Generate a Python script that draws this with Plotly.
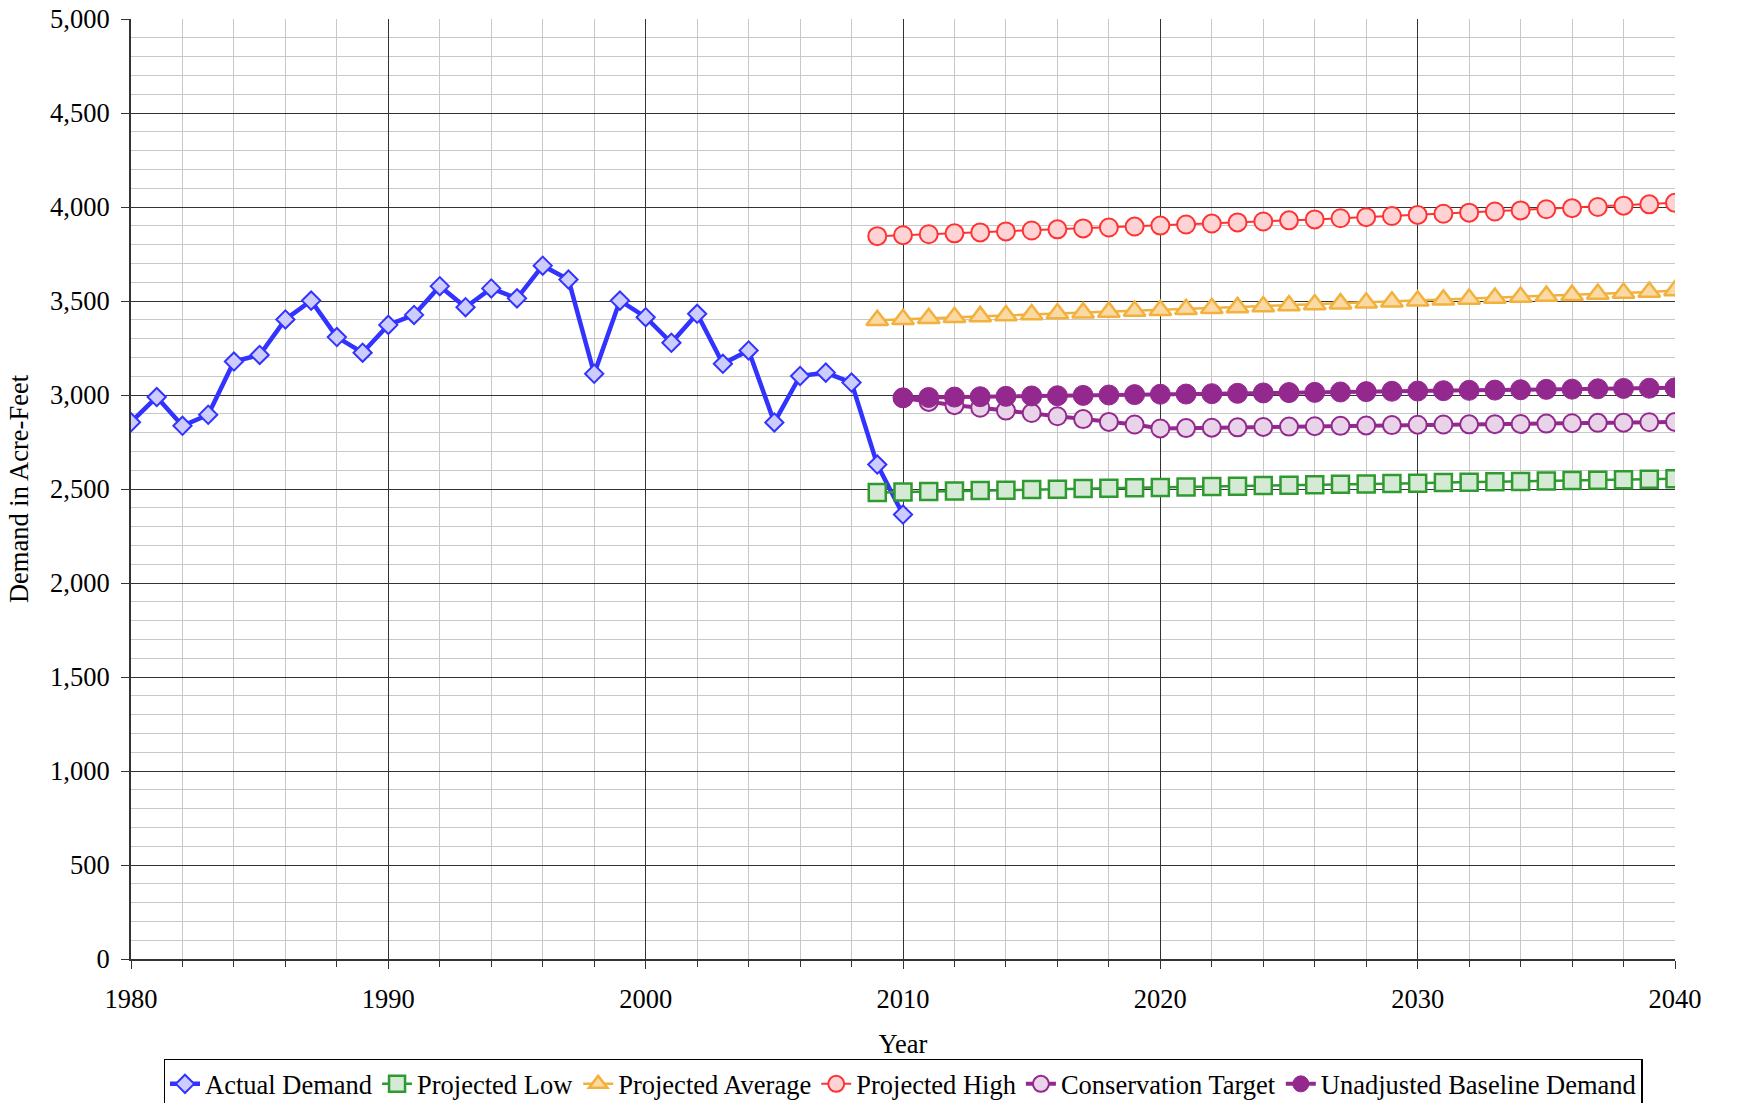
import plotly.graph_objects as go

# Actual demand 1980-2010
actual_years = list(range(1980, 2011))
actual_demand = [2855, 2989, 2836, 2895, 3178, 3213, 3402, 3502, 3308, 3225,
                 3373, 3426, 3579, 3467, 3567, 3514, 3688, 3614, 3113, 3502,
                 3414, 3278, 3432, 3166, 3237, 2854, 3101, 3119, 3066, 2630,
                 2364]

# Projections 2009-2040
proj_years = list(range(2009, 2041))
proj_low = [2481, 2484, 2487, 2489, 2492, 2494, 2497, 2499, 2502, 2504,
            2506, 2508, 2511, 2513, 2515, 2518, 2520, 2522, 2525, 2527,
            2529, 2531, 2534, 2536, 2538, 2540, 2543, 2545, 2547, 2549,
            2552, 2555]
proj_avg = [3398, 3403, 3408, 3413, 3418, 3423, 3428, 3433, 3438, 3442,
            3447, 3451, 3456, 3461, 3466, 3471, 3476, 3481, 3486, 3491,
            3496, 3501, 3506, 3511, 3516, 3521, 3526, 3531, 3537, 3542,
            3548, 3556]
proj_high = [3845, 3850, 3855, 3860, 3865, 3870, 3875, 3881, 3886, 3891,
             3896, 3901, 3907, 3912, 3918, 3923, 3929, 3934, 3940, 3946,
             3952, 3958, 3964, 3970, 3976, 3982, 3988, 3994, 4000, 4007,
             4014, 4022]

# Conservation / baseline 2010-2040
cons_years = list(range(2010, 2041))
conservation = [2984, 2963, 2946, 2932, 2917, 2904, 2887, 2872, 2857, 2843,
                2822, 2824, 2826, 2828, 2830, 2832, 2834, 2836, 2838, 2840,
                2842, 2843, 2844, 2845, 2846, 2848, 2850, 2852, 2853, 2855,
                2857]
baseline = [2985, 2987, 2989, 2991, 2993, 2995, 2996, 2998, 3000, 3002,
            3004, 3005, 3007, 3009, 3011, 3013, 3014, 3016, 3018, 3020,
            3021, 3023, 3025, 3026, 3028, 3030, 3031, 3033, 3035, 3036,
            3038]

FONT = "Liberation Serif, Times New Roman, serif"
FS = 26.5

fig = go.Figure()
fig.add_trace(go.Scatter(
    x=actual_years, y=actual_demand, name="Actual Demand",
    mode="lines+markers",
    line=dict(color="#3333ff", width=4.5),
    marker=dict(symbol="diamond", size=14, color="#ccccff",
                line=dict(color="#3333ff", width=2)),
))
fig.add_trace(go.Scatter(
    x=proj_years, y=proj_low, name="Projected Low",
    mode="lines+markers",
    line=dict(color="#2f9a2f", width=2.5),
    marker=dict(symbol="square", size=17, color="#d4ead4",
                line=dict(color="#2f9a2f", width=2.5)),
))
fig.add_trace(go.Scatter(
    x=proj_years, y=proj_avg, name="Projected Average",
    mode="lines+markers",
    line=dict(color="#f2b13d", width=2.5),
    marker=dict(symbol="triangle-up", size=19, color="#fad9a3",
                line=dict(color="#f2b13d", width=2.5)),
))
fig.add_trace(go.Scatter(
    x=proj_years, y=proj_high, name="Projected High",
    mode="lines+markers",
    line=dict(color="#ff3333", width=2),
    marker=dict(symbol="circle", size=18, color="#ffd3d3",
                line=dict(color="#ff3333", width=2)),
))
fig.add_trace(go.Scatter(
    x=cons_years, y=conservation, name="Conservation Target",
    mode="lines+markers",
    line=dict(color="#93298f", width=4),
    marker=dict(symbol="circle", size=18, color="#e8d3e8",
                line=dict(color="#93298f", width=2)),
))
fig.add_trace(go.Scatter(
    x=cons_years, y=baseline, name="Unadjusted Baseline Demand",
    mode="lines+markers",
    line=dict(color="#93298f", width=4),
    marker=dict(symbol="circle", size=20, color="#93298f",
                line=dict(color="#93298f", width=1)),
))

fig.update_layout(
    width=1738, height=1103,
    paper_bgcolor="white", plot_bgcolor="white",
    font=dict(family=FONT, size=FS, color="black"),
    margin=dict(l=131, r=63, t=19, b=144, autoexpand=False),
    showlegend=True,
    legend=dict(
        orientation="h", x=0.5, xanchor="center", y=-0.106, yanchor="top",
        bgcolor="white", bordercolor="black", borderwidth=1.5,
        font=dict(family=FONT, size=FS),
        tracegroupgap=0,
    ),
    xaxis=dict(
        range=[1980, 2040], dtick=10, tick0=1980,
        showline=True, linecolor="#333", linewidth=2,
        gridcolor="#333", gridwidth=1,
        ticks="outside", ticklen=8, tickcolor="#333",
        ticklabelstandoff=7, ticklabeloverflow="allow",
        zeroline=False,
        minor=dict(dtick=2, showgrid=True, gridcolor="#c8c8c8", gridwidth=1,
                   ticks="outside", ticklen=6, tickcolor="#333"),
        title=dict(text="Year", standoff=22, font=dict(size=FS)),
        tickfont=dict(size=FS),
    ),
    yaxis=dict(
        range=[0, 5000], dtick=500, tickformat=",",
        showline=True, linecolor="#333", linewidth=2,
        gridcolor="#333", gridwidth=1,
        ticks="outside", ticklen=8, tickcolor="#333",
        ticklabelstandoff=6, ticklabeloverflow="allow",
        zeroline=False,
        minor=dict(dtick=100, showgrid=True, gridcolor="#c8c8c8", gridwidth=1),
        title=dict(text="Demand in Acre-Feet", standoff=14, font=dict(size=FS)),
        tickfont=dict(size=FS),
    ),
)

# page body has a default 8px margin; drop it so the figure fills the window
fig.write_html("out.html", config={"displayModeBar": False},
               post_script="document.body.style.margin = '0';")
